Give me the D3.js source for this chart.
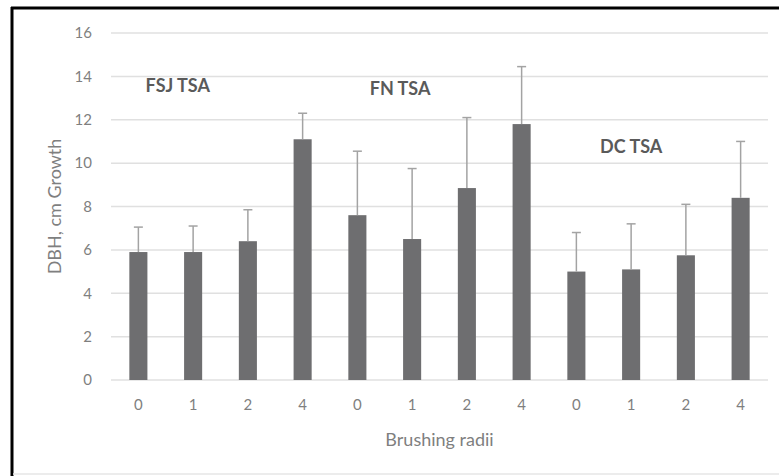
<!DOCTYPE html>
<html lang="en">
<head>
<meta charset="UTF-8">
<title>DBH growth by brushing radii</title>
<style>
  body { margin: 0; background: #fff; }
  text { font-family: Lato, "Open Sans", sans-serif; }
</style>
</head>
<body>
<script src="https://cdn.jsdelivr.net/npm/d3@7"></script>
<script>
const svg_w = 779;
const svg_h = 476;

// chart values
const radii = ['0', '1', '2', '4', '0', '1', '2', '4', '0', '1', '2', '4'];
const growth = [5.9, 5.9, 6.4, 11.1, 7.6, 6.5, 8.85, 11.8, 5.0, 5.1, 5.75, 8.4];
const errTop = [7.05, 7.1, 7.85, 12.3, 10.55, 9.75, 12.1, 14.45, 6.8, 7.2, 8.1, 11.0];
const yTicks = [0, 2, 4, 6, 8, 10, 12, 14, 16];
const groupNames = ['FSJ TSA', 'FN TSA', 'DC TSA'];
const groupLabelAt = [[0.72, 13.55], [4.78, 13.45], [9, 10.75]]; // [category position, y value]

const margin = { top: 33, right: 11, bottom: 96, left: 111 };

const svg = d3.select('body')
    .append('svg')
    .attr('width', svg_w)
    .attr('height', svg_h);

// frame
svg.append('line').attr('x1', 11).attr('x2', svg_w).attr('y1', 8).attr('y2', 8)
    .attr('stroke', '#000').attr('stroke-width', 3);
svg.append('line').attr('x1', 12).attr('x2', 12).attr('y1', 7).attr('y2', svg_h)
    .attr('stroke', '#000').attr('stroke-width', 3);
svg.append('line').attr('x1', 13).attr('x2', svg_w).attr('y1', 474).attr('y2', 474)
    .attr('stroke', '#e6e6e6').attr('stroke-width', 1.5);

const x = d3.scaleBand()
    .domain(d3.range(radii.length))
    .range([margin.left, svg_w - margin.right])
    .paddingInner(0.67)
    .paddingOuter(0.335);

const y = d3.scaleLinear()
    .domain([0, 16])
    .range([svg_h - margin.bottom, margin.top]);

const step = x.step();
const xCenter = p => x(0) + x.bandwidth() / 2 + p * step;

// gridlines
svg.append('g')
    .selectAll('line')
    .data(yTicks)
    .join('line')
    .attr('x1', margin.left)
    .attr('x2', svg_w - margin.right)
    .attr('y1', d => y(d))
    .attr('y2', d => y(d))
    .attr('stroke', '#e0e0e0')
    .attr('stroke-width', 1.5);

// y tick labels
const yAxis = svg.append('g')
    .attr('transform', `translate(${margin.left - 19},0)`)
    .call(d3.axisLeft(y).tickValues(yTicks).tickSize(0).tickPadding(0));
yAxis.select('.domain').remove();
yAxis.selectAll('text')
    .attr('fill', '#7f7f7f')
    .style('font-size', '15px');

// bars
svg.append('g')
    .selectAll('rect')
    .data(growth)
    .join('rect')
    .attr('x', (d, i) => x(i))
    .attr('width', x.bandwidth())
    .attr('y', d => y(d))
    .attr('height', d => y(0) - y(d))
    .attr('fill', '#6e6e70');

// error bars (upper only)
const err = svg.append('g')
    .attr('stroke', '#a3a3a3')
    .attr('stroke-width', 1.5);
err.selectAll('.stem')
    .data(errTop)
    .join('line')
    .attr('class', 'stem')
    .attr('x1', (d, i) => x(i) + x.bandwidth() / 2)
    .attr('x2', (d, i) => x(i) + x.bandwidth() / 2)
    .attr('y1', (d, i) => y(growth[i]))
    .attr('y2', d => y(d));
err.selectAll('.cap')
    .data(errTop)
    .join('line')
    .attr('class', 'cap')
    .attr('x1', (d, i) => x(i) + x.bandwidth() / 2 - 4.5)
    .attr('x2', (d, i) => x(i) + x.bandwidth() / 2 + 4.5)
    .attr('y1', d => y(d))
    .attr('y2', d => y(d));

// x tick labels
const xAxis = svg.append('g')
    .attr('transform', `translate(0,${y(0) + 19})`)
    .call(d3.axisBottom(x).tickSize(0).tickPadding(0).tickFormat(i => radii[i]));
xAxis.select('.domain').remove();
xAxis.selectAll('text')
    .attr('fill', '#7f7f7f')
    .style('font-size', '15px');

// axis titles
svg.append('text')
    .attr('x', (margin.left + svg_w - margin.right) / 2)
    .attr('y', 446)
    .attr('text-anchor', 'middle')
    .attr('fill', '#7f7f7f')
    .style('font-size', '18px')
    .text('Brushing radii');

svg.append('text')
    .attr('transform', `translate(61,${(y(0) + y(16)) / 2}) rotate(-90)`)
    .attr('text-anchor', 'middle')
    .attr('fill', '#7f7f7f')
    .style('font-size', '18px')
    .text('DBH, cm Growth');

// group labels
svg.append('g')
    .selectAll('text')
    .data(groupNames)
    .join('text')
    .attr('x', (d, i) => xCenter(groupLabelAt[i][0]))
    .attr('y', (d, i) => y(groupLabelAt[i][1]))
    .attr('text-anchor', 'middle')
    .attr('dy', '0.35em')
    .attr('fill', '#5a5a5a')
    .style('font-size', '18px')
    .style('font-weight', 'bold')
    .text(d => d);
</script>
</body>
</html>
